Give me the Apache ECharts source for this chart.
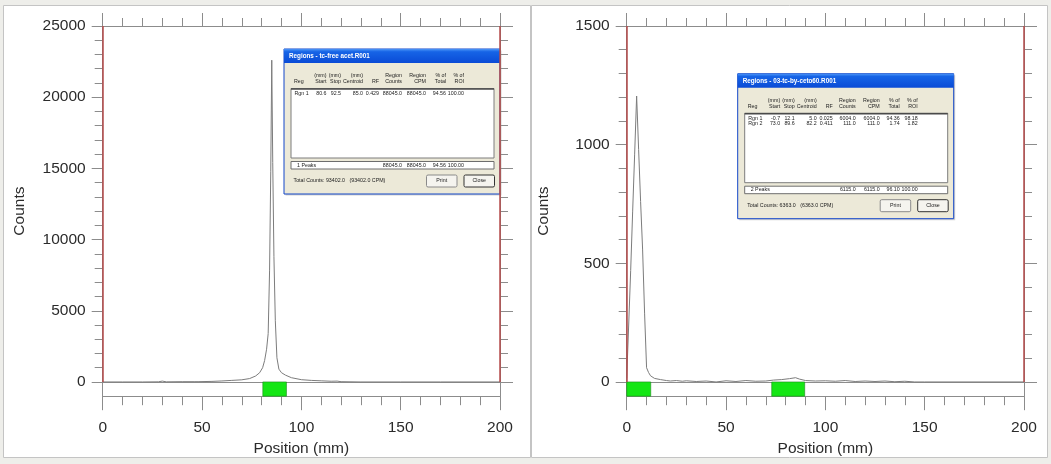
<!DOCTYPE html>
<html>
<head>
<meta charset="utf-8">
<script src="https://cdn.jsdelivr.net/npm/echarts@6/dist/echarts.min.js"></script>
<style>
html,body{margin:0;padding:0;background:#eeeeea}
#main{width:1051px;height:464px}
</style>
</head>
<body>
<div id="main"></div>
<script>
// left scan (tc-free acet) : position mm / counts
var posLeft = [0, 10, 20, 28, 30, 32, 40, 46, 47, 48, 55, 60, 65, 70, 74, 77, 79, 80.5, 81.5, 82.5, 83.3, 84, 84.6, 85.1, 85.6, 86.2, 86.9, 87.7, 88.7, 90, 92, 95, 100, 105, 110, 115, 118, 120, 130, 150, 170, 200];
var cntLeft = [0, 0, 0, 10, 60, 10, 20, 20, 70, 20, 40, 70, 110, 150, 240, 420, 650, 1000, 1500, 2300, 3400, 7800, 14800, 22600, 15400, 8800, 4300, 1700, 900, 650, 480, 300, 160, 110, 80, 50, 60, 20, 0, 0, 0, 0];
// right scan (03-tc-by-ceto60)
var posRight = [0, 1, 2, 3, 4, 5, 6, 7, 8, 9, 10, 11, 12, 14, 17, 20, 22, 25, 28, 30, 35, 40, 45, 50, 55, 60, 65, 70, 74, 78, 82, 85, 87, 90, 95, 100, 105, 110, 115, 120, 125, 130, 135, 140, 145, 150, 200];
var cntRight = [15, 240, 470, 720, 960, 1205, 980, 760, 560, 290, 60, 40, 26, 15, 10, 6, 4, 6, 3, 5, 2, 4, 0, 5, 2, 6, 3, 4, 8, 10, 14, 18, 12, 6, 4, 5, 3, 6, 2, 4, 2, 4, 1, 3, 0, 0, 0];

var yLabelsLeft = [0, 5000, 10000, 15000, 20000, 25000];
var yMinorLeft = [0, 1000, 2000, 3000, 4000, 5000, 6000, 7000, 8000, 9000, 10000, 11000, 12000, 13000, 14000, 15000, 16000, 17000, 18000, 19000, 20000, 21000, 22000, 23000, 24000, 25000];
var yLabelsRight = [0, 500, 1000, 1500];
var yMinorRight = [0, 100, 200, 300, 400, 500, 600, 700, 800, 900, 1000, 1100, 1200, 1300, 1400, 1500];

// dialog tables
var colHeads = ['(mm)\nStart', '(mm)\nStop', '(mm)\nCentroid', 'RF', 'Region\nCounts', 'Region\nCPM', '% of\nTotal', '% of\nROI'];
var rowsLeft = [['Rgn 1', '80.6', '92.5', '85.0', '0.429', '88045.0', '88045.0', '94.56', '100.00']];
var sumLeft = ['1 Peaks', '88045.0', '88045.0', '94.56', '100.00'];
var totalLeft = 'Total Counts: 93402.0   (93402.0 CPM)';
var rowsRight = [['Rgn 1', '-0.7', '12.1', '5.0', '0.025', '6004.0', '6004.0', '94.36', '98.18'],
                 ['Rgn 2', '73.0', '89.6', '82.2', '0.411', '111.0', '111.0', '1.74', '1.82']];
var sumRight = ['2 Peaks', '6115.0', '6115.0', '96.10', '100.00'];
var totalRight = 'Total Counts: 6363.0   (6363.0 CPM)';

var FONT = 'Liberation Sans, Arial, sans-serif';
var AXIS = '#8c8c8c';
var TXT = '#2b2b2b';

function zip(xs, ys) {
    var out = [];
    for (var i = 0; i < xs.length; i++) out.push([xs[i], ys[i]]);
    return out;
}

function xAxes(gi) {
    var ls = {color: AXIS, width: 1};
    return [
        { // bottom, labelled
            gridIndex: gi, type: 'value', min: 0, max: 200, interval: 50, position: 'bottom',
            axisLine: {onZero: false, lineStyle: ls},
            axisTick: {length: 14, lineStyle: ls},
            minorTick: {show: true, splitNumber: 5, length: 9, lineStyle: ls},
            axisLabel: {margin: 24, fontSize: 15.5, color: TXT, fontFamily: FONT},
            splitLine: {show: false},
            name: 'Position (mm)', nameLocation: 'middle', nameGap: 44,
            nameTextStyle: {fontSize: 15.5, color: TXT, fontFamily: FONT}
        },
        { // top frame
            gridIndex: gi, type: 'value', min: 0, max: 200, interval: 50, position: 'top',
            axisLine: {onZero: false, lineStyle: ls},
            axisTick: {length: 13, lineStyle: ls},
            minorTick: {show: true, splitNumber: 5, length: 8, lineStyle: ls},
            axisLabel: {show: false}, splitLine: {show: false}
        },
        { // zero line
            gridIndex: gi, type: 'value', min: 0, max: 200, position: 'bottom',
            axisLine: {onZero: true, lineStyle: ls},
            axisTick: {show: false}, axisLabel: {show: false}, splitLine: {show: false}
        }
    ];
}

function yAxes(gi, ymin, ymax, major, minor, withName) {
    var ls = {color: AXIS, width: 1};
    var base = {gridIndex: gi, type: 'value', min: ymin, max: ymax, splitLine: {show: false}};
    return [
        Object.assign({}, base, {
            position: 'left',
            axisLine: {show: true, onZero: false, lineStyle: ls},
            axisTick: {show: true, length: 11, customValues: major, lineStyle: ls},
            axisLabel: {customValues: major, margin: 17, fontSize: 15.5, color: TXT, fontFamily: FONT,
                formatter: function (v) { return String(v); }},
            name: withName, nameLocation: 'middle', nameGap: 75, nameRotate: 90,
            nameTextStyle: {fontSize: 15.5, color: TXT, fontFamily: FONT}
        }),
        Object.assign({}, base, {
            position: 'left',
            axisLine: {show: false, onZero: false},
            axisTick: {show: true, length: 8, customValues: minor, lineStyle: ls},
            axisLabel: {show: false}
        }),
        Object.assign({}, base, {
            position: 'right',
            axisLine: {show: true, onZero: false, lineStyle: ls},
            axisTick: {show: true, length: 13, customValues: major, lineStyle: ls},
            axisLabel: {show: false}
        }),
        Object.assign({}, base, {
            position: 'right',
            axisLine: {show: false, onZero: false},
            axisTick: {show: true, length: 8, customValues: minor, lineStyle: ls},
            axisLabel: {show: false}
        })
    ];
}

function scanSeries(xi, yi, data, rows, ymin, ymax) {
    var areas = rows.map(function (r) {
        return [{xAxis: parseFloat(r[1]), yAxis: ymin}, {xAxis: parseFloat(r[2]), yAxis: 0}];
    });
    return {
        type: 'line', xAxisIndex: xi, yAxisIndex: yi, data: data,
        symbol: 'none', smooth: false,
        lineStyle: {color: '#7c7c7c', width: 1},
        markLine: {
            silent: true, symbol: ['none', 'none'], label: {show: false},
            lineStyle: {color: '#b44a4a', width: 1.5, type: 'solid'},
            data: [
                [{coord: [0, 0]}, {coord: [0, ymax]}],
                [{coord: [200, 0]}, {coord: [200, ymax]}]
            ]
        },
        markArea: {
            silent: true,
            itemStyle: {color: '#14e614', borderColor: '#1d8a1d', borderWidth: 0.6},
            data: areas
        }
    };
}

function dialog(x0, y0, title, rows, summary, total) {
    var W = 216, H = 145;
    var colX = [42.5, 57, 79, 95, 118, 142, 162, 180];
    var small = {fontSize: 5.3, fontFamily: FONT, fill: '#222'};
    function t(x, y, s, align, extra) {
        return {type: 'text', x: x, y: y, style: Object.assign({text: s, align: align || 'left', verticalAlign: 'middle'}, small, extra || {})};
    }
    var grad = new echarts.graphic.LinearGradient(0, 0, 0, 1, [
        {offset: 0, color: '#4a94f7'}, {offset: 0.2, color: '#1664e6'}, {offset: 1, color: '#0a4bd6'}
    ]);
    var ch = [];
    ch.push({type: 'rect', shape: {x: 1.5, y: 1.5, width: W, height: H}, style: {fill: 'rgba(0,0,0,0.18)'}});
    ch.push({type: 'rect', shape: {x: 0, y: 0, width: W, height: H}, style: {fill: '#ece9d8', stroke: '#1347c9', lineWidth: 1}});
    ch.push({type: 'rect', shape: {x: 0, y: 0, width: W, height: 14}, style: {fill: grad}});
    ch.push(t(5, 7.2, title, 'left', {fill: '#ffffff', fontSize: 6.3, fontWeight: 'bold'}));
    ch.push(t(10, 33, 'Reg'));
    colHeads.forEach(function (h, i) {
        ch.push({type: 'text', x: colX[i], y: 35.5, style: Object.assign({text: h, align: 'right', verticalAlign: 'bottom', lineHeight: 5.8}, small)});
    });
    ch.push({type: 'rect', shape: {x: 7, y: 39.5, width: 203, height: 69.5}, style: {fill: '#ffffff', stroke: '#7d7d7d', lineWidth: 1}});
    ch.push({type: 'line', shape: {x1: 7, y1: 40, x2: 210, y2: 40}, style: {stroke: '#4a4a4a', lineWidth: 1.6}});
    rows.forEach(function (r, j) {
        var y = 45 + j * 5.2;
        ch.push(t(10.5, y, r[0]));
        for (var i = 1; i < r.length; i++) ch.push(t(colX[i - 1], y, r[i], 'right'));
    });
    ch.push({type: 'rect', shape: {x: 7, y: 112.5, width: 203, height: 7.5}, style: {fill: '#ffffff', stroke: '#6e6e6e', lineWidth: 1}});
    ch.push(t(13, 116.3, summary[0]));
    for (var k = 1; k < summary.length; k++) ch.push(t(colX[k + 3], 116.3, summary[k], 'right'));
    ch.push(t(9.5, 131.6, total));
    [['Print', 142.5, '#8a8a8a'], ['Close', 180, '#333333']].forEach(function (b) {
        ch.push({type: 'rect', shape: {x: b[1], y: 126, width: 30.5, height: 12, r: 1.5}, style: {fill: '#f5f4ef', stroke: b[2], lineWidth: 1}});
        ch.push(t(b[1] + 15.25, 132, b[0], 'center'));
    });
    return {type: 'group', x: x0, y: y0, z: 100, children: ch};
}

var chart = echarts.init(document.getElementById('main'));
var option = {
    animation: false,
    backgroundColor: '#eeeeea',
    grid: [
        {left: 102.7, top: 26, width: 397.3, height: 370.2},
        {left: 626.7, top: 26, width: 397.3, height: 370.2}
    ],
    xAxis: xAxes(0).concat(xAxes(1)),
    yAxis: yAxes(0, -1000, 25000, yLabelsLeft, yMinorLeft, 'Counts')
        .concat(yAxes(1, -60, 1500, yLabelsRight, yMinorRight, 'Counts')),
    series: [
        scanSeries(0, 0, zip(posLeft, cntLeft), rowsLeft, -1000, 25000),
        scanSeries(3, 4, zip(posRight, cntRight), rowsRight, -60, 1500)
    ],
    graphic: {
        elements: [
            {type: 'rect', z: -10, shape: {x: 3.5, y: 5.5, width: 527, height: 452}, style: {fill: '#ffffff', stroke: '#c4c4c4', lineWidth: 1}},
            {type: 'rect', z: -10, shape: {x: 531.5, y: 5.5, width: 516, height: 452}, style: {fill: '#ffffff', stroke: '#c4c4c4', lineWidth: 1}},
            dialog(284, 49, 'Regions - tc-free acet.R001', rowsLeft, sumLeft, totalLeft),
            dialog(737.7, 73.7, 'Regions - 03-tc-by-ceto60.R001', rowsRight, sumRight, totalRight)
        ]
    }
};
chart.setOption(option);
</script>
</body>
</html>
